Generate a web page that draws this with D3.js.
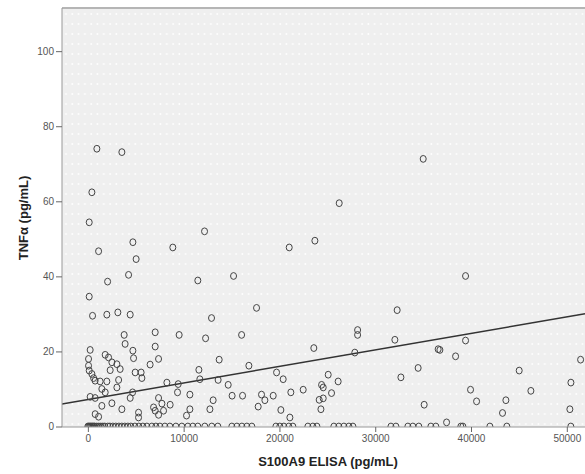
<!DOCTYPE html>
<html>
<head>
<meta charset="utf-8">
<title>S100A9 vs TNFa</title>
<script src="https://d3js.org/d3.v7.min.js"></script>
<style>
    body { margin: 0; background: #fff; font-family: "Liberation Sans", Arial, sans-serif; }
    .tick text { font-size: 10px; fill: #555; }
    .axis-title { font-size: 13px; font-weight: bold; fill: #222; }
</style>
</head>
<body>
<div id="chart"></div>
<script>
// S100A9 ELISA (pg/mL) and TNFa (pg/mL), one pair per subject
const s100a9 = [
    940, 3550, 420, 140, 12180, 4700, 8870, 1120, 5040, 4250, 15210, 11480, 2060, 140,
    35010, 26240, 23700, 21020, 39430,
    490, 1980, 3130, 4420, 3790, 3890, 7030, 9530, 7030, 240, 70, 1810, 2160, 2510,
    4700, 4770, 3030, 3370, 2330, 70, 140, 420, 600, 760, 7380, 6500, 4940, 5560,
    5640, 3210, 1280, 1980, 8250, 3030, 1460, 1810, 4670, 240, 760, 2510, 4420,
    1460, 3550, 7380, 8590, 6860, 7030, 7380, 5290, 5290, 760, 1120, 7730, 7900,
    17610, 12910, 12290, 16050, 13710, 11590, 16810, 11690, 9430, 9360, 13600, 14650,
    19700, 20390, 10650, 15060, 16150, 18130, 19350, 21190, 13080, 18480, 17780,
    10650, 12740, 10300, 20150, 21090,
    32290, 28160, 28160, 32050, 23590, 27870, 36570, 34480, 25090, 26130, 32680,
    24400, 24570, 22480, 25440, 24150, 24570, 24330, 35110,
    39430, 36750, 38390, 51440, 45030, 50430, 39950, 46250, 40580, 43640, 50320,
    43290, 37450
];
const tnfa = [
    74.0, 73.1, 62.4, 54.4, 52.0, 49.1, 47.7, 46.7, 44.6, 40.4, 40.1, 38.9, 38.6, 34.6,
    71.3, 59.5, 49.5, 47.7, 40.1,
    29.5, 29.8, 30.4, 29.8, 24.4, 22.0, 25.1, 24.4, 21.3, 20.4, 18.0, 19.1, 18.4, 17.1,
    20.2, 18.2, 16.6, 15.3, 15.0, 16.2, 14.9, 14.0, 12.9, 12.2, 18.0, 16.5, 14.4, 14.4,
    12.9, 12.4, 12.0, 12.0, 11.7, 10.4, 10.0, 9.1, 9.1, 7.9, 7.6, 6.2, 7.6,
    5.5, 4.6, 7.6, 5.8, 5.1, 4.2, 3.1, 3.7, 2.4, 3.3, 2.6, 6.1, 4.2,
    31.6, 28.9, 23.5, 24.4, 17.8, 15.1, 16.2, 12.6, 11.3, 9.1, 12.4, 11.1,
    14.4, 12.6, 8.5, 8.2, 8.2, 8.5, 8.2, 9.1, 7.0, 7.0, 5.3,
    4.6, 4.6, 2.9, 4.4, 2.4,
    31.0, 25.7, 24.4, 23.1, 20.9, 19.7, 20.6, 15.6, 13.8, 12.0, 13.1,
    11.1, 10.4, 9.8, 8.9, 7.1, 7.5, 4.6, 5.8,
    22.9, 20.4, 18.7, 17.8, 14.9, 11.7, 9.8, 9.5, 6.7, 7.0, 4.6,
    3.6, 1.1
];
// subjects with TNFa = 0
const s100a9AtZero = [
    0, 100, 210, 310, 420, 520, 630, 730, 940, 1150, 1360, 1570, 1770, 2090, 2300,
    2610, 2920, 3240, 3550, 3860, 4180, 4490, 4910, 5320, 5740, 6160, 6680, 7100,
    7520, 8040, 8560, 9190, 9810, 10440, 10960, 11480, 12210, 12940, 13570, 15030,
    15560, 16080, 16600, 17120, 19630, 20040, 20460, 20980, 21400, 22970, 23490,
    23910, 25680, 26200, 26730, 27250, 27670, 31640, 32160, 33410, 33930, 34550,
    35810, 36330, 38940, 39150, 41970, 43740, 50420
];
const xTicks = [0, 10000, 20000, 30000, 40000, 50000];
const yTicks = [0, 20, 40, 60, 80, 100];
const fitIntercept = 7.2;
const fitSlope = 0.00044;

const width = 585, height = 474;
const mLeft = 62, mTop = 8, mRight = 585, mBottom = 427;

const points = s100a9.map((v, i) => ({ x: v, y: tnfa[i] }))
    .concat(s100a9AtZero.map(v => ({ x: v, y: 0 })));

const x = d3.scaleLinear().domain([-2700, 51900]).range([mLeft, mRight]);
const y = d3.scaleLinear().domain([0, 111.5]).range([426.5, mTop]);

const svg = d3.select('#chart').append('svg')
    .attr('width', width)
    .attr('height', height);

const defs = svg.append('defs');
const pat = defs.append('pattern')
    .attr('id', 'dots')
    .attr('patternUnits', 'userSpaceOnUse')
    .attr('width', 6.3)
    .attr('height', 10);
pat.append('rect').attr('width', 6.3).attr('height', 10).attr('fill', '#efefef');
pat.append('circle').attr('cx', 3).attr('cy', 4).attr('r', 0.9).attr('fill', '#fff');

defs.append('clipPath').attr('id', 'plot-clip')
    .append('rect')
    .attr('x', mLeft).attr('y', mTop)
    .attr('width', mRight - mLeft).attr('height', mBottom - mTop);

// plot background
svg.append('rect')
    .attr('x', mLeft).attr('y', mTop)
    .attr('width', mRight - mLeft).attr('height', mBottom - mTop)
    .attr('fill', 'url(#dots)');

svg.append('line')
    .attr('x1', mLeft).attr('x2', mRight)
    .attr('y1', mTop).attr('y2', mTop)
    .attr('stroke', '#b5b5b5').attr('stroke-width', 2);

const plot = svg.append('g').attr('clip-path', 'url(#plot-clip)');

// fit line
plot.append('line')
    .attr('x1', x(-2700)).attr('y1', y(fitIntercept + fitSlope * -2700))
    .attr('x2', x(51900)).attr('y2', y(fitIntercept + fitSlope * 51900))
    .attr('stroke', '#333').attr('stroke-width', 1.5);

plot.append('g')
    .selectAll('ellipse')
    .data(points)
    .enter().append('ellipse')
    .attr('cx', d => x(d.x))
    .attr('cy', d => y(d.y))
    .attr('rx', 3)
    .attr('ry', 3.4)
    .attr('fill', 'none')
    .attr('stroke', '#444')
    .attr('stroke-width', 1);

// axes
const xAxis = svg.append('g')
    .attr('transform', `translate(0,${mBottom})`)
    .call(d3.axisBottom(x).tickValues(xTicks).tickFormat(d3.format('d')).tickSize(5).tickPadding(3));
const yAxis = svg.append('g')
    .attr('transform', `translate(${mLeft},0)`)
    .call(d3.axisLeft(y).tickValues(yTicks).tickFormat(d3.format('d')).tickSize(6).tickPadding(2));

[xAxis, yAxis].forEach(a => {
    a.select('.domain').attr('stroke', '#999');
    a.selectAll('.tick line').attr('stroke', '#666');
    a.selectAll('.tick text').attr('font-family', '"Liberation Sans", Arial, sans-serif');
});
xAxis.select('.domain').attr('d', `M${mLeft},0H${mRight}`);
yAxis.select('.domain').attr('d', `M0,${mTop}V${mBottom}`);

svg.append('text')
    .attr('class', 'axis-title')
    .attr('x', 328).attr('y', 466)
    .attr('text-anchor', 'middle')
    .text('S100A9 ELISA (pg/mL)');

svg.append('text')
    .attr('class', 'axis-title')
    .attr('transform', 'translate(28,218) rotate(-90)')
    .attr('text-anchor', 'middle')
    .text('TNFα (pg/mL)');
</script>
</body>
</html>
